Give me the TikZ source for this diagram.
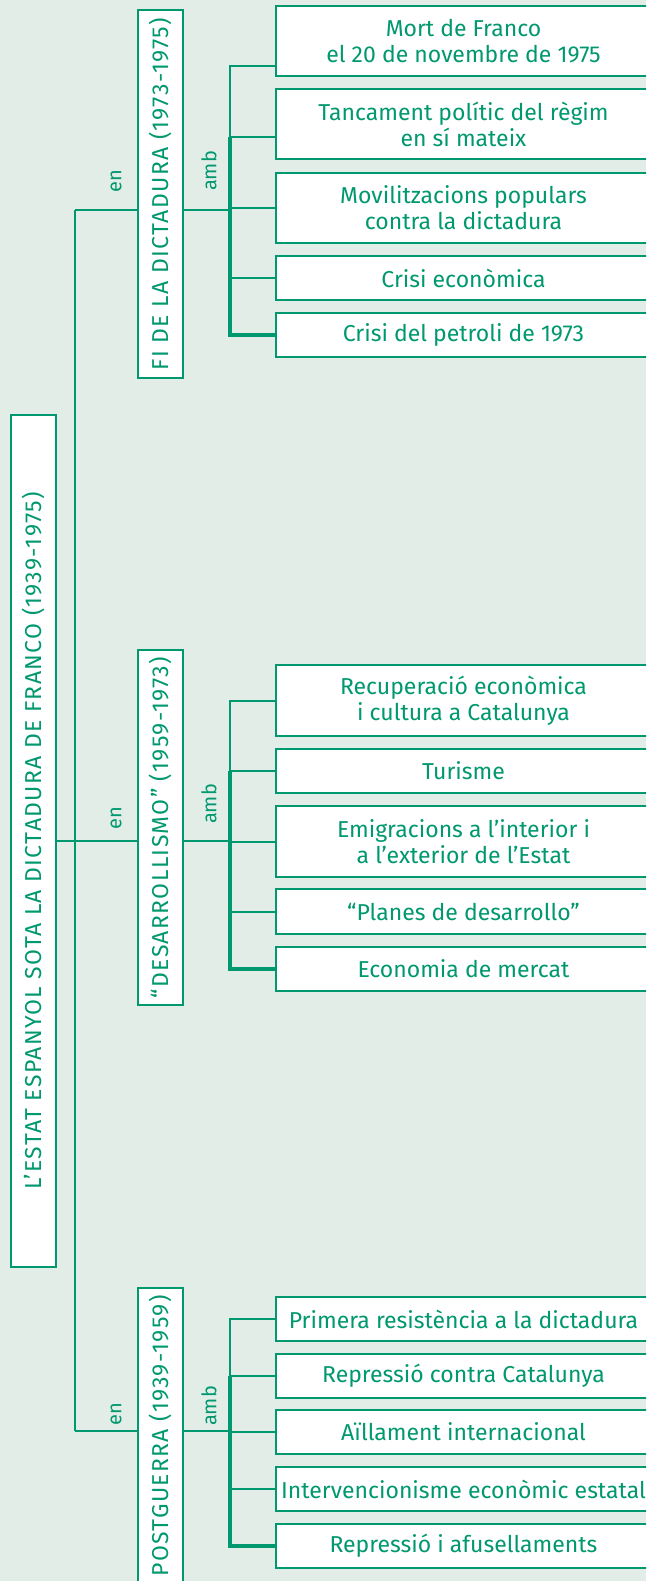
\documentclass[tikz,border=0pt]{standalone}
\usepackage{fontspec}
\setmainfont{Fira Sans}
\definecolor{gr}{RGB}{0,152,110}
\definecolor{bg}{RGB}{226,237,231}
\begin{document}
\begin{tikzpicture}[x=1pt,y=-1pt,
  bx/.style={draw=gr, line width=2pt, fill=white, inner sep=0pt, text=gr, font=\fontsize{23}{26}\selectfont, align=center},
  leaf/.style={bx, anchor=north west, minimum width=375pt},
  vbox/.style={bx, anchor=north west, minimum width=45pt, font=\fontsize{23}{26}\selectfont\addfontfeature{LetterSpace=6}},
  conn/.style={draw=gr, line width=2pt},
  thk/.style={draw=gr, line width=3.2pt, line join=miter},
  lab/.style={text=gr, font=\fontsize{20}{22}\selectfont, inner sep=0pt}]
\fill[bg] (0,0) rectangle (646,1581);
\useasboundingbox (0,0) rectangle (646,1581);
\clip (0,0) rectangle (646,1581);
% main box
\node[vbox, minimum height=852pt] (main) at (10,414) {\rotatebox{90}{L’ESTAT ESPANYOL SOTA LA DICTADURA DE FRANCO (1939-1975)}};
% sub boxes
\node[vbox, minimum height=368pt] (s1) at (137,9) {\rotatebox{90}{FI DE LA DICTADURA (1973-1975)}};
\node[vbox, minimum height=355pt] (s2) at (137,649) {\rotatebox{90}{“DESARROLLISMO” (1959-1973)}};
\node[vbox, minimum height=296pt] (s3) at (137,1287) {\rotatebox{90}{POSTGUERRA (1939-1959)}};
% leaves group 1
\node[leaf, minimum height=70pt] (a1) at (275,5) {Mort de Franco\\el 20 de novembre de 1975};
\node[leaf, minimum height=70pt] (a2) at (275,88) {Tancament polític del règim\\en sí mateix};
\node[leaf, minimum height=70pt] (a3) at (275,172) {Movilitzacions populars\\contra la dictadura};
\node[leaf, minimum height=44pt] (a4) at (275,255) {Crisi econòmica};
\node[leaf, minimum height=44pt] (a5) at (275,312) {Crisi del petroli de 1973};
% leaves group 2
\node[leaf, minimum height=71pt] (b1) at (275,664) {Recuperació econòmica\\i cultura a Catalunya};
\node[leaf, minimum height=44pt] (b2) at (275,748) {Turisme};
\node[leaf, minimum height=71pt] (b3) at (275,805) {Emigracions a l’interior i\\a l’exterior de l’Estat};
\node[leaf, minimum height=45pt] (b4) at (275,888) {“Planes de desarrollo”};
\node[leaf, minimum height=44pt] (b5) at (275,946) {Economia de mercat};
% leaves group 3
\node[leaf, minimum height=44pt] (c1) at (275,1296) {Primera resistència a la dictadura};
\node[leaf, minimum height=44pt] (c2) at (275,1353) {Repressió contra Catalunya};
\node[leaf, minimum height=44pt] (c3) at (275,1409) {Aïllament internacional};
\node[leaf, minimum height=44pt] (c4) at (275,1466) {Intervencionisme econòmic estatal};
\node[leaf, minimum height=44pt] (c5) at (275,1523) {Repressió i afusellaments};
% labels
\node[lab] (en1) at (116,181) {\rotatebox{90}{en}};
\node[lab] (amb1) at (209,171) {\rotatebox{90}{amb}};
\node[lab] (en2) at (116,818) {\rotatebox{90}{en}};
\node[lab] (amb2) at (209,804) {\rotatebox{90}{amb}};
\node[lab] (en3) at (116,1414) {\rotatebox{90}{en}};
\node[lab] (amb3) at (209,1406) {\rotatebox{90}{amb}};
% connector coordinates
\coordinate (T) at (75,0);
\coordinate (B) at (230,0);
\coordinate (y1) at (0,210);
\coordinate (y2) at (0,841);
\coordinate (y3) at (0,1431);
\coordinate (ka1) at (0,66);
\coordinate (ka2) at (0,137);
% trunk
\draw[conn] (main.east |- y2) -- (T |- y2);
\draw[conn] (T |- y1) -- (T |- y3);
\draw[conn] (T |- y1) -- (s1.west |- y1);
\draw[conn] (T |- y2) -- (s2.west |- y2);
\draw[conn] (T |- y3) -- (s3.west |- y3);
\draw[conn] (s1.east |- y1) -- (B |- y1);
\draw[conn] (s2.east |- y2) -- (B |- y2);
\draw[conn] (s3.east |- y3) -- (B |- y3);
% group 1 bracket
\draw[conn] (a1.west |- ka1) -- (B |- ka1) -- (B |- ka2);
\draw[conn] (B |- ka2) -- (a2.west |- ka2);
\draw[conn] (B |- a3.west) -- (a3.west);
\draw[conn] (B |- a4.west) -- (a4.west);
\draw[thk] (B |- ka2) -- (B |- a5.west) -- (a5.west);
% group 2 bracket
\draw[conn] (b1.west) -- (B |- b1.west) -- (B |- b2.west);
\draw[conn] (B |- b2.west) -- (b2.west);
\draw[conn] (B |- b3.west) -- (b3.west);
\draw[conn] (B |- b4.west) -- (b4.west);
\draw[thk] (B |- b2.west) -- (B |- b5.west) -- (b5.west);
% group 3 bracket
\draw[conn] (c1.west) -- (B |- c1.west) -- (B |- c2.west);
\draw[conn] (B |- c2.west) -- (c2.west);
\draw[conn] (B |- c3.west) -- (c3.west);
\draw[conn] (B |- c4.west) -- (c4.west);
\draw[thk] (B |- c2.west) -- (B |- c5.west) -- (c5.west);
\end{tikzpicture}
\end{document}
